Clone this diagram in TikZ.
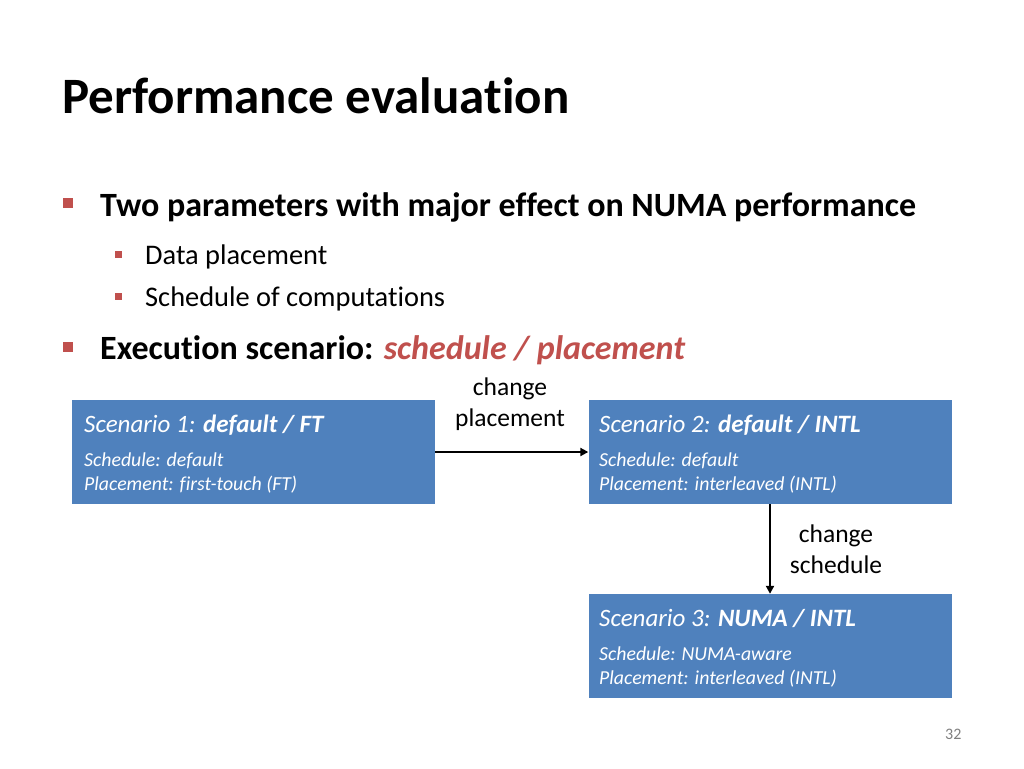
\documentclass[tikz,border=0pt]{standalone}
\usepackage{fontspec}
\setmainfont{Carlito}[Ligatures=NoCommon]
\usetikzlibrary{arrows.meta}
\definecolor{boxblue}{HTML}{4F81BD}
\definecolor{accred}{HTML}{C0504D}
\definecolor{numgray}{HTML}{7F7F7F}
\tikzset{
  scen/.style={fill=boxblue, draw=none, minimum width=363pt, minimum height=104pt, inner sep=0pt},
  txt/.style={inner sep=0pt, anchor=base west},
  boxhead/.style={txt, white, font=\fontsize{25}{30}\selectfont\itshape},
  boxline/.style={txt, white, font=\fontsize{19.8}{24}\selectfont\itshape},
  bullet/.style={fill=accred, draw=none, inner sep=0pt},
  conn/.style={draw=black, line width=2pt, -{Triangle[length=8pt,width=8pt]}},
  lbl/.style={inner sep=0pt, align=center, font=\fontsize{25.5}{31}\selectfont}
}
\begin{document}
\begin{tikzpicture}[x=1pt,y=-1pt]
\useasboundingbox (0,0) rectangle (1024,768);
% title
\node[txt, font=\fontsize{51}{60}\selectfont\bfseries] (title) at (62,113) {Performance evaluation};
% bullets
\fill[bullet] (63,198) rectangle (73,208);
\node[txt, font=\fontsize{34}{40}\selectfont\bfseries] (b1) at (100,216) {Two parameters with major effect on NUMA performance};
\fill[bullet] (115,251) rectangle (122,258);
\node[txt, font=\fontsize{28.4}{34}\selectfont] (b2) at (145,264) {Data placement};
\fill[bullet] (115,293) rectangle (122,300);
\node[txt, font=\fontsize{28.4}{34}\selectfont] (b3) at (145,306) {Schedule of computations};
\fill[bullet] (63,342) rectangle (73,352);
\node[txt, font=\fontsize{34}{40}\selectfont\bfseries] (b4) at (100,359) {Execution scenario: \textcolor{accred}{\itshape schedule / placement}};
% boxes
\node[scen] (s1) at (253.5,452) {};
\node[scen] (s2) at (770,452) {};
\node[scen] (s3) at (770,646) {};
% box texts
\node[boxhead] (s1t) at (84,432) {Scenario 1: \textbf{default / FT}};
\node[boxline] (s1a) at (84,466) {Schedule: default};
\node[boxline] (s1b) at (84,490) {Placement: first-touch (FT)};
\node[boxhead] (s2t) at (599,432) {Scenario 2: \textbf{default / INTL}};
\node[boxline] (s2a) at (599,466) {Schedule: default};
\node[boxline] (s2b) at (599,490) {Placement: interleaved (INTL)};
\node[boxhead] (s3t) at (599,626) {Scenario 3: \textbf{NUMA / INTL}};
\node[boxline] (s3a) at (599,660) {Schedule: NUMA-aware};
\node[boxline] (s3b) at (599,684) {Placement: interleaved (INTL)};
% connectors
\draw[conn] (s1.east) -- (s2.west);
\draw[conn] (s2.south) -- (s3.north);
\node[lbl] (l1) at (510,404) {change\\placement};
\node[lbl] (l2) at (836,549) {change\\schedule};
% page number
\node[txt, numgray, font=\fontsize{16}{19}\selectfont] (pg) at (945,739) {32};
\end{tikzpicture}
\end{document}
